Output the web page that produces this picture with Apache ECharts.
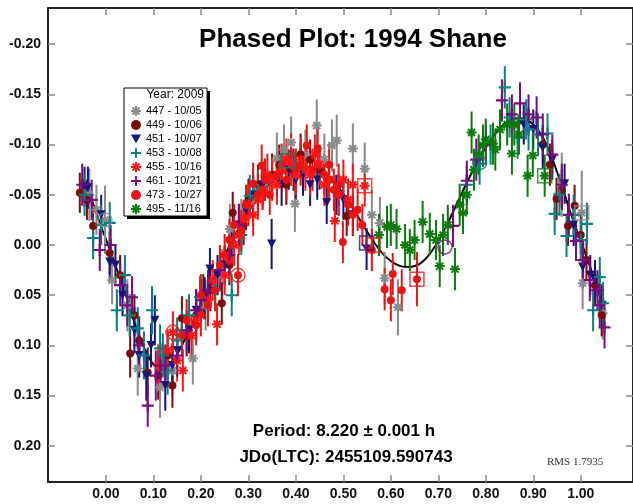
<!DOCTYPE html>
<html><head><meta charset="utf-8">
<script src="https://cdn.jsdelivr.net/npm/echarts@6/dist/echarts.min.js"></script>
<style>html,body{margin:0;padding:0;background:#fff}#c{width:633px;height:504px}</style>
</head><body><div id="c"></div>
<script>
// ---- data: [phase, magnitude, error] ----
const seriesNames = ['447 - 10/05','449 - 10/06','451 - 10/07','453 - 10/08','455 - 10/16','461 - 10/21','473 - 10/27','495 - 11/16'];
const s447 = [[-0.035,-0.050,0.026],[-0.020,-0.035,0.025],[-0.002,-0.025,0.034],[0.013,0.035,0.024],[0.045,0.060,0.026],[0.067,0.123,0.027],[0.114,0.142,0.030],[0.140,0.125,0.026],[0.183,0.113,0.026],[0.210,0.060,0.025],[0.245,0.030,0.026],[0.261,-0.016,0.025],[0.285,-0.020,0.026],[0.310,-0.045,0.026],[0.330,-0.060,0.025],[0.360,-0.086,0.026],[0.375,-0.095,0.025],[0.390,-0.102,0.026],[0.398,-0.041,0.028],[0.420,-0.090,0.025],[0.444,-0.119,0.026],[0.460,-0.085,0.026],[0.476,-0.099,0.026],[0.486,-0.104,0.026],[0.520,-0.096,0.025],[0.545,-0.076,0.026],[0.560,-0.030,0.025],[0.577,-0.022,0.026],[0.587,0.033,0.026],[0.615,0.062,0.028],[0.960,-0.060,0.032],[1.002,-0.032,0.042],[1.004,0.038,0.026],[1.046,0.068,0.026]];
const s449 = [[-0.055,-0.052,0.020],[-0.040,-0.045,0.020],[-0.027,-0.019,0.021],[0.008,0.008,0.021],[0.030,0.030,0.020],[0.051,0.108,0.024],[0.060,0.070,0.021],[0.070,0.095,0.024],[0.088,0.127,0.025],[0.110,0.130,0.024],[0.130,0.110,0.024],[0.140,0.140,0.022],[0.160,0.073,0.022],[0.170,0.090,0.021],[0.190,0.070,0.020],[0.205,0.050,0.021],[0.220,0.045,0.021],[0.244,0.058,0.021],[0.260,0.020,0.020],[0.267,-0.032,0.021],[0.290,-0.020,0.020],[0.300,-0.045,0.021],[0.320,-0.060,0.020],[0.335,-0.065,0.021],[0.350,-0.070,0.021],[0.365,-0.080,0.020],[0.380,-0.060,0.020],[0.395,-0.075,0.021],[0.410,-0.090,0.021],[0.430,-0.085,0.020],[0.450,-0.075,0.020],[0.470,-0.065,0.021],[0.490,-0.050,0.021],[0.507,-0.029,0.020],[0.920,-0.100,0.020],[0.935,-0.080,0.021],[0.949,-0.046,0.021],[0.960,-0.055,0.020],[0.973,-0.019,0.020],[0.987,-0.039,0.021],[1.000,-0.010,0.020],[1.012,0.015,0.020],[1.030,0.040,0.021],[1.044,0.070,0.021]];
const s451 = [[-0.045,-0.058,0.020],[-0.038,-0.057,0.021],[-0.010,-0.030,0.020],[0.008,0.017,0.020],[0.020,0.020,0.021],[0.035,0.050,0.021],[0.060,0.085,0.023],[0.070,0.110,0.022],[0.085,0.130,0.025],[0.095,0.100,0.022],[0.103,0.075,0.025],[0.125,0.140,0.025],[0.140,0.120,0.022],[0.150,0.105,0.023],[0.175,0.085,0.023],[0.190,0.065,0.021],[0.208,0.053,0.021],[0.219,0.024,0.021],[0.235,0.030,0.020],[0.250,0.020,0.020],[0.265,0.000,0.021],[0.280,-0.020,0.021],[0.295,-0.035,0.020],[0.310,-0.050,0.020],[0.330,-0.060,0.021],[0.349,-0.001,0.025],[0.370,-0.060,0.021],[0.385,-0.075,0.020],[0.400,-0.065,0.020],[0.415,-0.070,0.021],[0.430,-0.060,0.021],[0.445,-0.065,0.020],[0.465,-0.042,0.021],[0.485,-0.050,0.020],[0.500,-0.045,0.020],[0.520,-0.030,0.021],[0.549,0.004,0.021],[0.880,-0.120,0.020],[0.900,-0.115,0.020],[0.920,-0.097,0.021],[0.940,-0.085,0.020],[0.966,-0.061,0.020],[0.985,-0.020,0.021],[1.004,0.022,0.021],[1.020,0.030,0.020],[1.030,0.035,0.020],[1.045,0.060,0.021]];
const s453 = [[-0.045,-0.050,0.021],[-0.027,-0.007,0.021],[-0.010,-0.020,0.020],[0.008,-0.022,0.021],[0.023,0.065,0.021],[0.040,0.030,0.020],[0.050,0.070,0.021],[0.067,0.083,0.021],[0.080,0.110,0.024],[0.097,0.065,0.024],[0.114,0.103,0.024],[0.120,0.110,0.022],[0.130,0.125,0.024],[0.150,0.095,0.023],[0.160,0.085,0.021],[0.175,0.070,0.021],[0.198,0.052,0.021],[0.230,0.045,0.020],[0.265,0.050,0.021],[0.285,-0.010,0.020],[0.303,-0.049,0.021],[0.320,-0.055,0.020],[0.760,-0.060,0.020],[0.787,-0.081,0.021],[0.810,-0.100,0.020],[0.840,-0.157,0.021],[0.850,-0.127,0.020],[0.867,-0.107,0.021],[0.885,-0.125,0.020],[0.890,-0.115,0.021],[0.910,-0.110,0.021],[0.930,-0.111,0.020],[0.945,-0.031,0.021],[0.955,-0.050,0.021],[0.970,-0.009,0.021],[0.985,-0.030,0.020],[1.000,-0.005,0.021],[1.013,-0.021,0.021],[1.026,0.065,0.021],[1.040,0.032,0.020],[1.047,0.058,0.021]];
const s455 = [[0.110,0.120,0.021],[0.130,0.105,0.021],[0.141,0.087,0.021],[0.150,0.115,0.021],[0.162,0.125,0.021],[0.180,0.090,0.020],[0.190,0.075,0.021],[0.200,0.070,0.021],[0.215,0.055,0.021],[0.225,0.035,0.020],[0.234,0.079,0.021],[0.250,0.030,0.020],[0.260,0.015,0.021],[0.270,0.000,0.021],[0.280,-0.010,0.020],[0.290,-0.025,0.020],[0.300,-0.040,0.021],[0.310,-0.030,0.021],[0.320,-0.045,0.020],[0.330,-0.055,0.020],[0.340,-0.070,0.021],[0.350,-0.065,0.021],[0.360,-0.060,0.020],[0.370,-0.075,0.020],[0.380,-0.085,0.021],[0.390,-0.080,0.021],[0.400,-0.070,0.020],[0.410,-0.085,0.020],[0.420,-0.075,0.021],[0.430,-0.070,0.021],[0.440,-0.090,0.020],[0.450,-0.080,0.020],[0.460,-0.060,0.021],[0.470,-0.065,0.021],[0.482,-0.024,0.021],[0.490,-0.050,0.020],[0.500,-0.065,0.020],[0.510,-0.045,0.021],[0.520,-0.060,0.021],[0.545,-0.059,0.021]];
const s461 = [[-0.050,-0.060,0.021],[-0.030,-0.045,0.020],[-0.013,0.005,0.021],[0.010,0.000,0.020],[0.030,0.040,0.021],[0.045,0.060,0.021],[0.055,0.052,0.021],[0.070,0.100,0.021],[0.088,0.160,0.021],[0.105,0.130,0.025],[0.115,0.120,0.022],[0.125,0.120,0.021],[0.150,0.110,0.021],[0.170,0.085,0.020],[0.190,0.065,0.021],[0.200,0.055,0.021],[0.215,0.045,0.020],[0.240,0.025,0.021],[0.260,0.010,0.020],[0.280,-0.020,0.021],[0.731,-0.019,0.021],[0.760,-0.064,0.020],[0.780,-0.085,0.021],[0.800,-0.100,0.020],[0.834,-0.144,0.021],[0.855,-0.130,0.020],[0.872,-0.141,0.021],[0.890,-0.130,0.020],[0.907,-0.127,0.021],[0.920,-0.110,0.021],[0.940,-0.090,0.020],[0.960,-0.060,0.021],[0.975,-0.030,0.021],[0.990,-0.004,0.020],[1.005,0.015,0.021],[1.019,0.035,0.021],[1.035,0.045,0.020],[1.040,0.060,0.021],[1.050,0.082,0.021]];
const s473 = [[0.160,0.090,0.021],[0.170,0.075,0.021],[0.190,0.080,0.020],[0.200,0.050,0.021],[0.215,0.060,0.021],[0.230,0.045,0.021],[0.240,0.020,0.020],[0.250,0.010,0.021],[0.260,-0.005,0.021],[0.270,-0.020,0.021],[0.278,0.030,0.021],[0.285,-0.015,0.020],[0.295,-0.040,0.020],[0.310,-0.061,0.021],[0.320,-0.050,0.021],[0.328,-0.079,0.021],[0.335,-0.065,0.021],[0.345,-0.050,0.020],[0.360,-0.070,0.021],[0.370,-0.080,0.021],[0.380,-0.065,0.020],[0.390,-0.090,0.021],[0.400,-0.075,0.021],[0.410,-0.080,0.021],[0.423,-0.099,0.021],[0.435,-0.075,0.021],[0.446,-0.096,0.021],[0.460,-0.070,0.020],[0.470,-0.080,0.021],[0.480,-0.055,0.021],[0.490,-0.060,0.021],[0.499,-0.003,0.021],[0.510,-0.040,0.021],[0.520,-0.030,0.020],[0.530,-0.035,0.021],[0.540,-0.020,0.021],[0.560,0.005,0.021],[0.587,0.044,0.021],[0.600,0.055,0.021],[0.604,0.029,0.021],[0.623,0.045,0.021],[0.655,0.034,0.027]];
const s495 = [[0.575,-0.010,0.021],[0.592,-0.018,0.021],[0.600,-0.020,0.021],[0.612,-0.016,0.020],[0.630,0.000,0.021],[0.640,0.005,0.021],[0.650,-0.005,0.020],[0.667,-0.023,0.021],[0.682,-0.011,0.021],[0.695,-0.005,0.020],[0.703,0.021,0.021],[0.710,-0.010,0.021],[0.720,-0.020,0.020],[0.735,0.024,0.021],[0.745,-0.040,0.021],[0.752,-0.032,0.021],[0.760,-0.050,0.020],[0.770,-0.112,0.021],[0.775,-0.075,0.021],[0.785,-0.090,0.020],[0.794,-0.099,0.021],[0.800,-0.105,0.021],[0.815,-0.101,0.021],[0.820,-0.095,0.021],[0.830,-0.115,0.020],[0.845,-0.120,0.021],[0.855,-0.091,0.021],[0.860,-0.120,0.021],[0.870,-0.110,0.020],[0.888,-0.069,0.021],[0.899,-0.089,0.021],[0.924,-0.069,0.021]];
// highlighted points: [phase, magnitude, session index]
const openCircleMarks = [[-0.002,-0.025,0],[0.141,0.087,4],[0.278,0.030,6],[0.714,0.002,5],[0.787,-0.082,3]];
const openSquareMarks = [[0.383,-0.084,3],[0.545,-0.059,4],[0.549,-0.002,2],[0.562,0.000,4],[0.655,0.034,6],[0.924,-0.069,7],[1.002,-0.032,0]];
// Fourier fit curve
const fitPhase = [-0.05,-0.03,-0.01,0.00,0.02,0.04,0.06,0.08,0.10,0.12,0.14,0.16,0.18,0.20,0.22,0.24,0.26,0.28,0.30,0.32,0.34,0.36,0.38,0.40,0.42,0.44,0.46,0.48,0.50,0.52,0.54,0.56,0.58,0.60,0.62,0.64,0.66,0.68,0.70,0.72,0.74,0.76,0.78,0.80,0.82,0.84,0.86,0.88,0.90,0.92,0.94,0.96,0.98,1.00,1.02,1.04,1.05];
const fitMag = [-0.066,-0.045,-0.018,-0.006,0.020,0.047,0.077,0.102,0.119,0.124,0.117,0.100,0.080,0.060,0.040,0.020,0.001,-0.017,-0.033,-0.047,-0.059,-0.068,-0.074,-0.077,-0.078,-0.076,-0.071,-0.063,-0.051,-0.037,-0.021,-0.006,0.007,0.016,0.021,0.022,0.019,0.010,-0.004,-0.022,-0.042,-0.062,-0.081,-0.097,-0.111,-0.121,-0.126,-0.126,-0.120,-0.107,-0.086,-0.059,-0.030,-0.004,0.022,0.050,0.064];
const xTicks = [0,0.1,0.2,0.3,0.4,0.5,0.6,0.7,0.8,0.9,1.0];
const yTicks = [-0.20,-0.15,-0.10,-0.05,0,0.05,0.10,0.15,0.20];

const allSets = [s447,s449,s451,s453,s455,s461,s473,s495];
const colors = ['#8a8a8a','#7a0c0c','#14147a','#0b7f7f','#ff1414','#7a0a82','#e81414','#0a7a0a'];
const STAR = 'path://M4,0L6,0L6,10L4,10Z M0,4L10,4L10,6L0,6Z M2.21,0.79L9.21,7.79L7.79,9.21L0.79,2.21Z M7.79,0.79L9.21,2.21L2.21,9.21L0.79,7.79Z';
const PLUS = 'path://M4.1,0L5.9,0L5.9,10L4.1,10Z M0,4.1L10,4.1L10,5.9L0,5.9Z';
const TRI = 'path://M0,0L10,0L5,9Z';
const symbols = [STAR,'circle',TRI,PLUS,STAR,PLUS,'circle',STAR];
const symSizes = [10,8,9,12,10,12,8,10];
const FONT = '"Liberation Sans", Arial, sans-serif';

const chart = echarts.init(document.getElementById('c'), null, {renderer:'canvas'});
const series = [];
series.push({type:'line', name:'fit', data: fitPhase.map((p,i)=>[p,fitMag[i]]), symbol:'none', smooth:0.2,
  lineStyle:{color:'#000', width:2}, z:1, silent:true});
allSets.forEach((arr,i)=>{
  series.push({type:'custom', name:'err'+i, data: arr, encode:{x:0,y:1}, silent:true, z:2,
    renderItem:(params, api)=>{
      const x = api.value(0), y = api.value(1), e = api.value(2);
      const a = api.coord([x, y-e]), b = api.coord([x, y+e]);
      return {type:'line', shape:{x1:a[0],y1:a[1],x2:b[0],y2:b[1]}, style:{stroke:colors[i], lineWidth:2}};
    }});
  series.push({type:'scatter', name: seriesNames[i], data: arr.map(d=>[d[0],d[1]]), symbol: symbols[i],
    symbolSize: symSizes[i], itemStyle:{color: colors[i], opacity:1}, z:3, silent:true});
});
series.push({type:'scatter', name:'hlc', data: openCircleMarks.map(d=>({value:[d[0],d[1]], itemStyle:{borderColor:colors[d[2]]}})),
  symbol:'circle', symbolSize:14, itemStyle:{color:'rgba(0,0,0,0)', borderWidth:1.5}, z:4, silent:true});
series.push({type:'scatter', name:'hls', data: openSquareMarks.map(d=>({value:[d[0],d[1]], itemStyle:{borderColor:colors[d[2]]}})),
  symbol:'rect', symbolSize:14, itemStyle:{color:'rgba(0,0,0,0)', borderWidth:1.5}, z:4, silent:true});

const axisLine = {show:true, onZero:false, lineStyle:{color:'#222', width:2}};
const tickStyle = {color:'#888', width:1.5};
const xMin = -0.122, xMax = 1.110, yMin = -0.236, yMax = 0.236;
chart.setOption({
  backgroundColor:'#fff',
  animation:false,
  grid:{left:48, top:8, width:585, height:474, containLabel:false},
  xAxis:[
    {type:'value', min:xMin, max:xMax, position:'bottom', axisLine,
     axisTick:{show:true, inside:true, length:7, customValues:xTicks, lineStyle:tickStyle},
     axisLabel:{show:true, customValues:xTicks, formatter:v=>v.toFixed(2), fontWeight:'bold', fontSize:14, color:'#111', margin:5, fontFamily:FONT},
     splitLine:{show:false}},
    {type:'value', min:xMin, max:xMax, position:'top', axisLine,
     axisTick:{show:true, inside:true, length:7, customValues:xTicks, lineStyle:tickStyle},
     axisLabel:{show:false}, splitLine:{show:false}}
  ],
  yAxis:[
    {type:'value', inverse:true, min:yMin, max:yMax, position:'left', axisLine,
     axisTick:{show:true, inside:true, length:7, customValues:yTicks, lineStyle:tickStyle},
     axisLabel:{show:true, customValues:yTicks, formatter:v=>v.toFixed(2), fontWeight:'bold', fontSize:14, color:'#111', margin:7, fontFamily:FONT},
     splitLine:{show:false}},
    {type:'value', inverse:true, min:yMin, max:yMax, position:'right', axisLine,
     axisTick:{show:true, inside:true, length:7, customValues:yTicks, lineStyle:tickStyle},
     axisLabel:{show:false}, splitLine:{show:false}}
  ],
  legend:{data: seriesNames.map((n,i)=>({name:n, icon:symbols[i]})), orient:'vertical', left:131, top:104,
    itemWidth:10, itemHeight:10, itemGap:0, padding:0, selectedMode:false, z:60,
    textStyle:{fontSize:11, lineHeight:14, color:'#000', fontFamily:FONT}},
  graphic:[
    {type:'rect', shape:{x:127,y:91,width:83,height:128}, style:{fill:'#000'}, z:50},
    {type:'rect', shape:{x:124,y:88,width:83,height:128}, style:{fill:'#fff', stroke:'#000', lineWidth:1}, z:51},
    {type:'text', z:52, style:{text:'Year: 2009', x:204, y:95, align:'right', verticalAlign:'middle', font:'12px '+FONT, fill:'#000'}},
    {type:'text', z:52, style:{text:'Phased Plot: 1994 Shane', x:353, y:40, align:'center', verticalAlign:'middle', font:'bold 26px '+FONT, fill:'#000'}},
    {type:'text', z:52, style:{text:'Period: 8.220 \u00b1 0.001 h', x:344, y:431, align:'center', verticalAlign:'middle', font:'bold 17px '+FONT, fill:'#000'}},
    {type:'text', z:52, style:{text:'JDo(LTC): 2455109.590743', x:346, y:457, align:'center', verticalAlign:'middle', font:'bold 17px '+FONT, fill:'#000'}},
    {type:'text', z:52, style:{text:'RMS 1.7935', x:547, y:462, align:'left', verticalAlign:'middle', font:'11px "Liberation Serif", "Times New Roman", serif', fill:'#333'}}
  ],
  series
});
</script></body></html>
